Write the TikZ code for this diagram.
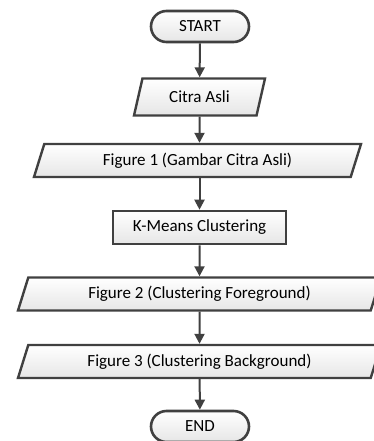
\documentclass[tikz,border=0pt]{standalone}
\usepackage{fontspec}
\setmainfont{Carlito}
\usepackage{xcolor}
\definecolor{flowline}{HTML}{404040}
\definecolor{flowfillt}{HTML}{FFFFFF}
\definecolor{flowfillb}{HTML}{E6E6E6}
\usepackage{tikz}
\usetikzlibrary{shapes.geometric, shapes.misc, arrows.meta, positioning}
\tikzset{
  fterm/.style={rounded rectangle, draw=flowline, line width=2.6pt, top color=flowfillt, bottom color=flowfillb,
                text=black, align=center, inner sep=2pt, minimum width=102pt, minimum height=31pt, font=\fontsize{17}{20}\selectfont},
  fio/.style  ={trapezium, trapezium left angle=62, trapezium right angle=118, trapezium stretches body,
                draw=flowline, line width=2.4pt, top color=flowfillt, bottom color=flowfillb,
                text=black, align=center, inner sep=2pt, minimum height=33pt, font=\fontsize{17}{20}\selectfont},
  fproc/.style={rectangle, draw=flowline, line width=2.6pt, top color=flowfillt, bottom color=flowfillb,
                text=black, align=center, inner sep=2pt, minimum height=33pt, font=\fontsize{17}{20}\selectfont},
  farr/.style ={-{Triangle[length=10pt, width=10pt]}, line width=2pt, color=flowline},
}
\begin{document}
\begin{tikzpicture}[x=1pt, y=-1pt]
  \useasboundingbox (0,0) rectangle (374,441);
  % alur proses clustering
  \node[fterm] (start) at (200,26.5) {START};
  \node[fio, minimum width=131pt, minimum height=37pt] (citra) at (199.5,97) {Citra Asli};
  \node[fio, minimum width=327pt] (fig1) at (197.5,160.5) {Figure 1 (Gambar Citra Asli)};
  \node[fproc, minimum width=173pt] (kmeans) at (199.5,227.5) {K-Means Clustering};
  \node[fio, minimum width=363pt] (fig2) at (199.5,294) {Figure 2 (Clustering Foreground)};
  \node[fio, minimum width=363pt] (fig3) at (199.5,361.5) {Figure 3 (Clustering Background)};
  \node[fterm] (end) at (200,426.5) {END};
  \draw[farr] (start) -- (citra);
  \draw[farr] (citra) -- (citra|-fig1.north);
  \draw[farr] (citra|-fig1.south) -- (kmeans);
  \draw[farr] (kmeans) -- (fig2);
  \draw[farr] (fig2) -- (fig3);
  \draw[farr] (fig3) -- (end);
\end{tikzpicture}
\end{document}
